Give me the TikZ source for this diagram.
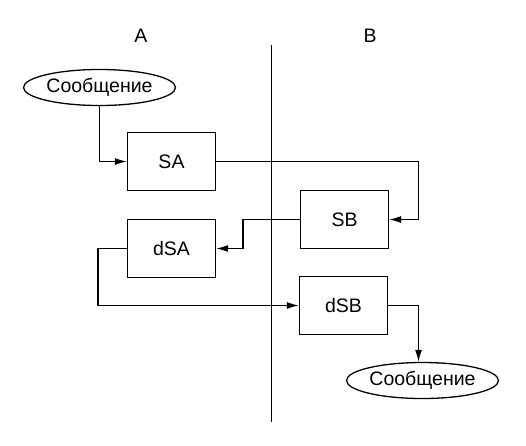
\documentclass[tikz,border=0pt]{standalone}
\usepackage{fontspec}
\setmainfont{Liberation Sans}
\usetikzlibrary{shapes.geometric,arrows.meta}
\begin{document}
\begin{tikzpicture}[x=1pt,y=-1pt,
  every node/.style={font=\fontsize{19.5}{22}\selectfont},
  blk/.style={draw,line width=1.3pt,minimum width=88pt,minimum height=58pt,inner sep=0pt},
  ell/.style={draw,ellipse,line width=1.3pt,minimum width=152pt,minimum height=36pt,inner sep=0pt},
  conn/.style={line width=1.3pt,-{Latex[length=12pt,width=7pt]}},
  lbl/.style={inner sep=0pt}]
\useasboundingbox (0,0) rectangle (526,445);
\node[lbl] (A) at (141,36) {A};
\node[lbl] (B) at (370,36) {B};
\coordinate (vt) at (271.5,45);
\coordinate (vb) at (271.5,422);
\draw[line width=1.3pt] (vt) -- (vb);
\node[ell] (m1) at (99.5,87.5) {Сообщение};
\node[blk] (SA) at (171.5,161.5) {SA};
\node[blk] (SB) at (344.5,219.5) {SB};
\node[blk] (dSA) at (171.5,248.5) {dSA};
\node[blk] (dSB) at (343.5,305.5) {dSB};
\node[ell] (m2) at (422.5,380.5) {Сообщение};
\draw[conn] (m1.south) |- (SA.west);
\draw[conn] (SA.east) -- ++(202,0) |- (SB.east);
\draw[conn] (SB.west) -- ++(-57,0) |- (dSA.east);
\draw[conn] (dSA.west) -- ++(-29,0) |- (dSB.west);
\draw[conn] (dSB.east) -| (m2.north -| 418.5,0);
\end{tikzpicture}
\end{document}
